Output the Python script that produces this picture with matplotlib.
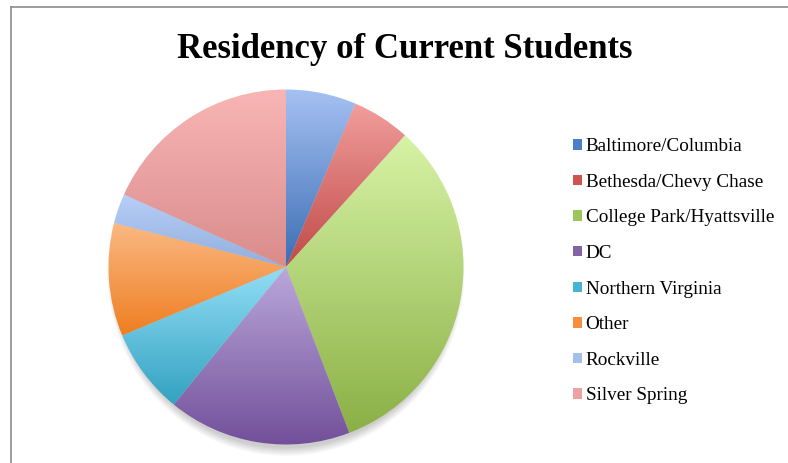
import numpy as np
import matplotlib
matplotlib.use("Agg")
import matplotlib.pyplot as plt
from matplotlib.colors import LinearSegmentedColormap
from matplotlib.patches import Patch, Ellipse

# data (percent of students)
regions = ["Baltimore/Columbia", "Bethesda/Chevy Chase", "College Park/Hyattsville",
           "DC", "Northern Virginia", "Other", "Rockville", "Silver Spring"]
shares = [6.4, 5.3, 32.5, 16.7, 7.8, 10.3, 2.7, 18.3]

# gradient colours per slice: light at the top, dark at the bottom
tops = ["#a6c1f3", "#f19e9c", "#d7f3a6", "#bba8db", "#94def7", "#fbb984", "#b7cff8", "#f9b5b5"]
bottoms = ["#3b6db3", "#c04a48", "#8bb045", "#714f99", "#32a2c0", "#ee7e21", "#92aedc", "#d98c8c"]
legend_colors = ["#4a7ec6", "#d05350", "#9cc55a", "#8163a8", "#46b4d2", "#f68e3c", "#a4bfec", "#eca2a2"]

fig = plt.figure(figsize=(7.88, 4.63), dpi=100)
W, H = 788, 463

# frame lines (left and top)
fig.add_artist(plt.Line2D([10.5 / W, 10.5 / W], [0, 1 - 6.5 / H], color="#8c8c8c", lw=1.2))
fig.add_artist(plt.Line2D([10.5 / W, 1], [1 - 6.5 / H, 1 - 6.5 / H], color="#8c8c8c", lw=1.2))

cx, cy, r = 286, 267, 177.5
half = 190
ax = fig.add_axes([(cx - half) / W, (H - cy - half) / H, 2 * half / W, 2 * half / H])
lim = half / r
ax.set_aspect("equal")
ax.axis("off")

# soft shadow, mostly below the pie
for i in range(10):
    ax.add_patch(Ellipse((0, -0.035), 2 * (0.97 + 0.004 * i), 2 * (0.985 + 0.005 * i),
                         color="black", alpha=0.02, lw=0, zorder=0))

wedges, _ = ax.pie(shares, startangle=90, counterclock=False, radius=1.0,
                   wedgeprops=dict(linewidth=0))

grad = np.linspace(0, 1, 256).reshape(-1, 1)
for w, top, bot in zip(wedges, tops, bottoms):
    w.set_facecolor("none")
    pts = w.get_patch_transform().transform(w.get_path().vertices)
    x0, x1 = pts[:, 0].min(), pts[:, 0].max()
    y0, y1 = pts[:, 1].min(), pts[:, 1].max()
    cmap = LinearSegmentedColormap.from_list("g", [top, bot])
    im = ax.imshow(grad, cmap=cmap, extent=[x0, x1, y0, y1], origin="upper",
                   aspect="auto", zorder=1, interpolation="bilinear")
    im.set_clip_path(w)

ax.set_xlim(-lim, lim)
ax.set_ylim(-lim, lim)

fig.text(405 / W, 1 - 49 / H, "Residency of Current Students", ha="center", va="center",
         fontsize=25, fontweight="bold", family="Liberation Serif")

handles = [Patch(facecolor=c, edgecolor="none") for c in legend_colors]
fig.legend(handles, regions, loc="upper left", bbox_to_anchor=(556 / W, 1 - 121 / H),
           frameon=False, prop=dict(family="Liberation Serif", size=13.8),
           handlelength=0.45, handleheight=0.45, handletextpad=0.2, labelspacing=0.97)

fig.savefig("out.png", dpi=100)
